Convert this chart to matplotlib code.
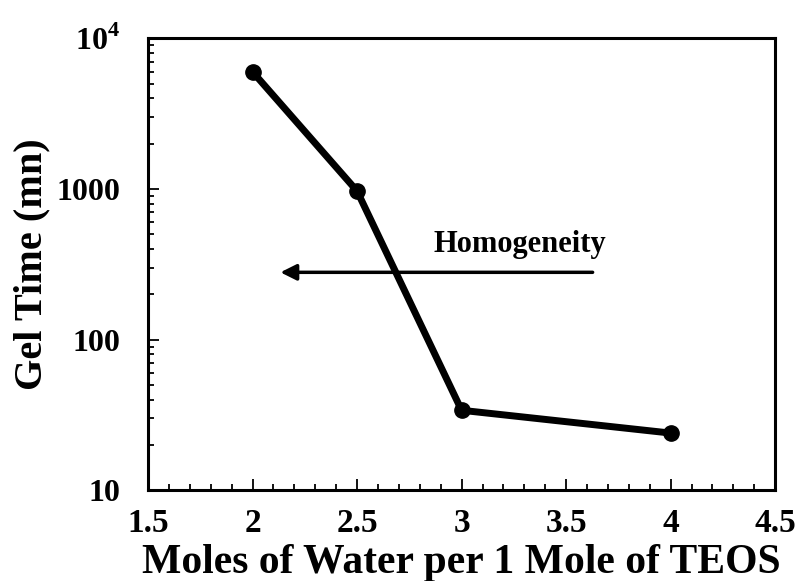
import matplotlib
matplotlib.use("Agg")
import matplotlib.pyplot as plt
from matplotlib.ticker import NullFormatter, MultipleLocator

x_water = [2.0, 2.5, 3.0, 4.0]
gel_time = [6000, 970, 34, 24]
x_ticks = [1.5, 2, 2.5, 3, 3.5, 4, 4.5]
x_ticklabels = ["1.5", "2", "2.5", "3", "3.5", "4", "4.5"]
y_ticks = [10, 100, 1000, 10000]
y_ticklabels = ["10", "100", "1000", r"10$^{\mathbf{4}}$"]

plt.rcParams['font.family'] = ['Liberation Serif', 'DejaVu Serif']
plt.rcParams['mathtext.fontset'] = 'custom'
plt.rcParams['mathtext.rm'] = 'Liberation Serif'
plt.rcParams['mathtext.bf'] = 'Liberation Serif:bold'

fig = plt.figure(figsize=(8, 5.81), dpi=100)
ax = fig.add_axes([0.185, 0.156, 0.784, 0.778])

ax.plot(x_water, gel_time, color='black', lw=5, marker='o', ms=11, solid_capstyle='round')
ax.set_yscale('log')
ax.set_xlim(1.5, 4.5)
ax.set_ylim(10, 10000)

ax.set_xticks(x_ticks)
ax.set_xticklabels(x_ticklabels, fontsize=24)
ax.xaxis.set_minor_locator(MultipleLocator(0.1))
ax.set_yticks(y_ticks)
ax.set_yticklabels(y_ticklabels, fontsize=23)

ax.tick_params(axis='x', which='major', direction='in', length=8, width=1.3, top=False, right=False, pad=13)
ax.tick_params(axis='y', which='major', direction='in', length=8, width=1.3, top=False, right=False, pad=20)
ax.tick_params(axis='both', which='minor', direction='in', length=4, width=1.3, top=False, right=False)
ax.yaxis.set_minor_formatter(NullFormatter())
for lab in ax.get_xticklabels() + ax.get_yticklabels():
    lab.set_fontweight('bold')
for s in ax.spines.values():
    s.set_linewidth(2.2)

ax.set_xlabel("Moles of Water per 1 Mole of TEOS", fontsize=30, fontweight='bold', labelpad=3)
ax.set_ylabel("Gel Time (mn)", fontsize=29, fontweight='bold', labelpad=4)

ax.annotate("", xy=(2.12, 280), xytext=(3.64, 280),
            arrowprops=dict(arrowstyle='-|>', color='black', lw=2.5, mutation_scale=24))
ax.text(3.28, 430, "Homogeneity", fontsize=22, fontweight='bold', ha='center', va='center')

fig.savefig("out.png", dpi=100)
